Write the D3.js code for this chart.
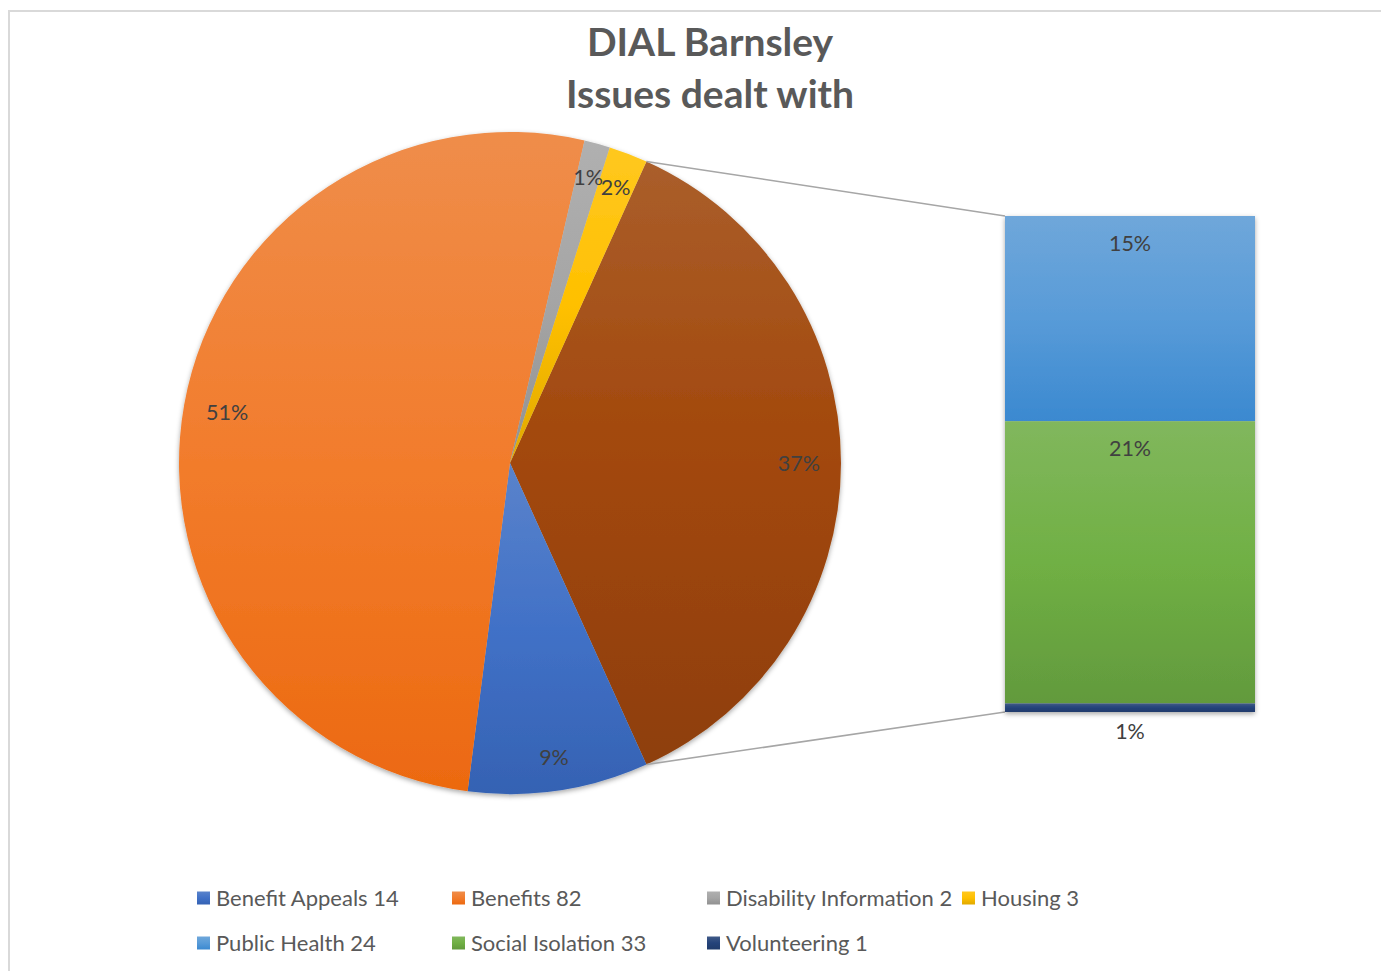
<!doctype html>
<html lang="en">
<head>
	<meta charset="UTF-8">
	<title>DIAL Barnsley - Issues dealt with</title>
	<style>
		body { margin: 0; background: #fff; }
		svg { display: block; font-family: Lato, "Open Sans", sans-serif; }
	</style>
</head>
<body>
	<script src="https://cdn.jsdelivr.net/npm/d3@7"></script>
	<script>
		// data
		var categories = ['Benefit Appeals', 'Benefits', 'Disability Information', 'Housing', 'Public Health', 'Social Isolation', 'Volunteering'];
		var values = [14, 82, 2, 3, 24, 33, 1];
		var inBar = [false, false, false, false, true, true, true];
		var pctLabels = ['9%', '51%', '1%', '2%', '15%', '21%', '1%'];
		var otherLabel = '37%';
		var colors = ['#4472c4', '#ed7d31', '#a5a5a5', '#ffc000', '#5b9bd5', '#70ad47', '#264478'];
		var otherColor = '#9e480e';

		var w = 1381,
			h = 971,
			cx = 510,
			cy = 463,
			r = 331;

		var svg = d3.select('body')
				.append('svg')
				.attr('width', w)
				.attr('height', h);

		var defs = svg.append('defs');

		// excel style vertical gradient: light tint on top, deeper shade at the bottom
		function addGrad(id, base) {
			var top = d3.interpolateRgb(base, '#fff')(0.12);
			var mid = d3.hsl(base);
			mid.s = Math.min(1, mid.s * 1.05);
			var bot = d3.hsl(base);
			bot.s = Math.min(1, bot.s * 1.04);
			bot.l = bot.l * 0.88;
			var g = defs.append('linearGradient')
				.attr('id', id)
				.attr('x1', 0).attr('y1', 0)
				.attr('x2', 0).attr('y2', 1);
			g.append('stop').attr('offset', '0%').attr('stop-color', top);
			g.append('stop').attr('offset', '50%').attr('stop-color', mid + '');
			g.append('stop').attr('offset', '100%').attr('stop-color', bot + '');
		}
		colors.forEach(function(c, i) { addGrad('g' + i, c); });
		addGrad('gOther', otherColor);

		var shadow = defs.append('filter')
			.attr('id', 'shadow')
			.attr('x', '-10%').attr('y', '-10%')
			.attr('width', '120%').attr('height', '120%');
		shadow.append('feDropShadow')
			.attr('dx', 0).attr('dy', 2)
			.attr('stdDeviation', 2.5)
			.attr('flood-color', '#000')
			.attr('flood-opacity', 0.35);

		// chart border
		svg.append('path')
			.attr('d', 'M9,' + (h + 5) + 'V11H' + (w + 5))
			.attr('fill', 'none')
			.attr('stroke', '#d9d9d9')
			.attr('stroke-width', 2);

		// title
		var title = svg.append('text')
			.attr('text-anchor', 'middle')
			.attr('font-weight', 'bold')
			.attr('font-size', 39)
			.attr('fill', '#595959');
		title.append('tspan').attr('x', 710).attr('y', 56).text('DIAL Barnsley');
		title.append('tspan').attr('x', 710).attr('y', 108).text('Issues dealt with');

		// pie data: the "other" slice first, then the main items clockwise
		var total = d3.sum(values);
		var otherValue = d3.sum(values.filter(function(v, i) { return inBar[i]; }));
		var pieData = [{ name: 'Other', value: otherValue, fill: 'url(#gOther)', label: otherLabel }];
		categories.forEach(function(c, i) {
			if (!inBar[i]) pieData.push({ name: c, value: values[i], fill: 'url(#g' + i + ')', label: pctLabels[i] });
		});

		var otherAngle = otherValue / total * 2 * Math.PI;
		var pie = d3.pie()
			.sort(null)
			.value(function(d) { return d.value; })
			.startAngle(Math.PI / 2 - otherAngle / 2)
			.endAngle(Math.PI / 2 - otherAngle / 2 + 2 * Math.PI);

		var arc = d3.arc()
			.innerRadius(0)
			.outerRadius(r);

		var arcs = pie(pieData);

		var pieG = svg.append('g')
			.attr('transform', 'translate(' + cx + ',' + cy + ')');

		pieG.append('g')
			.attr('filter', 'url(#shadow)')
			.selectAll('path')
			.data(arcs)
			.enter()
			.append('path')
			.attr('fill', function(d) { return d.data.fill; })
			.attr('d', arc);

		// labels at the inside end of each slice
		pieG.selectAll('text.lbl')
			.data(arcs)
			.enter()
			.append('text')
			.attr('class', 'lbl')
			.attr('font-size', 21.5)
			.attr('fill', '#404040')
			.attr('text-anchor', 'middle')
			.attr('dy', '0.35em')
			.text(function(d) { return d.data.label; })
			.attr('transform', function(d) {
				var a = (d.startAngle + d.endAngle) / 2;
				var tw = this.getComputedTextLength();
				var ext = Math.abs(Math.sin(a)) * tw / 2 + Math.abs(Math.cos(a)) * 10;
				var rr = r - ext - 21;
				return 'translate(' + (rr * Math.sin(a)) + ',' + (-rr * Math.cos(a)) + ')';
			});

		// bar of the pie
		var barX0 = 1005,
			barW = 250;
		var y = d3.scaleLinear()
			.domain([0, otherValue])
			.range([712, 216]);

		var barItems = [];
		var acc = otherValue;
		categories.forEach(function(c, i) {
			if (inBar[i]) {
				barItems.push({ name: c, top: acc, bottom: acc - values[i], i: i });
				acc -= values[i];
			}
		});

		// connector lines
		var a0 = arcs[0].startAngle,
			a1 = arcs[0].endAngle;
		svg.append('line')
			.attr('x1', cx + r * Math.sin(a0)).attr('y1', cy - r * Math.cos(a0))
			.attr('x2', barX0).attr('y2', y(otherValue))
			.attr('stroke', '#a6a6a6').attr('stroke-width', 1.5);
		svg.append('line')
			.attr('x1', cx + r * Math.sin(a1)).attr('y1', cy - r * Math.cos(a1))
			.attr('x2', barX0).attr('y2', y(0))
			.attr('stroke', '#a6a6a6').attr('stroke-width', 1.5);

		svg.append('g')
			.attr('filter', 'url(#shadow)')
			.selectAll('rect')
			.data(barItems)
			.enter()
			.append('rect')
			.attr('x', barX0)
			.attr('width', barW)
			.attr('y', function(d) { return y(d.top); })
			.attr('height', function(d) { return y(d.bottom) - y(d.top); })
			.attr('fill', function(d) { return 'url(#g' + d.i + ')'; });

		svg.selectAll('text.barlbl')
			.data(barItems)
			.enter()
			.append('text')
			.attr('class', 'barlbl')
			.attr('font-size', 21.5)
			.attr('fill', '#404040')
			.attr('text-anchor', 'middle')
			.attr('x', barX0 + barW / 2)
			.attr('y', function(d) {
				var hh = y(d.bottom) - y(d.top);
				return hh > 30 ? y(d.top) + 35 : y(d.bottom) + 27;
			})
			.text(function(d) { return pctLabels[d.i]; });

		// legend
		var legend = svg.append('g').attr('font-size', 22).attr('fill', '#595959');
		var items = legend.selectAll('g')
			.data(categories)
			.enter()
			.append('g')
			.attr('transform', function(d, i) {
				var col = i < 4 ? i : i - 4,
					row = i < 4 ? 0 : 1;
				return 'translate(' + (197 + col * 255) + ',' + (898 + row * 45) + ')';
			});
		items.append('rect')
			.attr('x', 0).attr('y', -6.5)
			.attr('width', 13).attr('height', 13)
			.attr('fill', function(d, i) { return 'url(#g' + i + ')'; });
		items.append('text')
			.attr('x', 19)
			.attr('dy', '0.35em')
			.text(function(d, i) { return d + ' ' + values[i]; });
	</script>
</body>
</html>
